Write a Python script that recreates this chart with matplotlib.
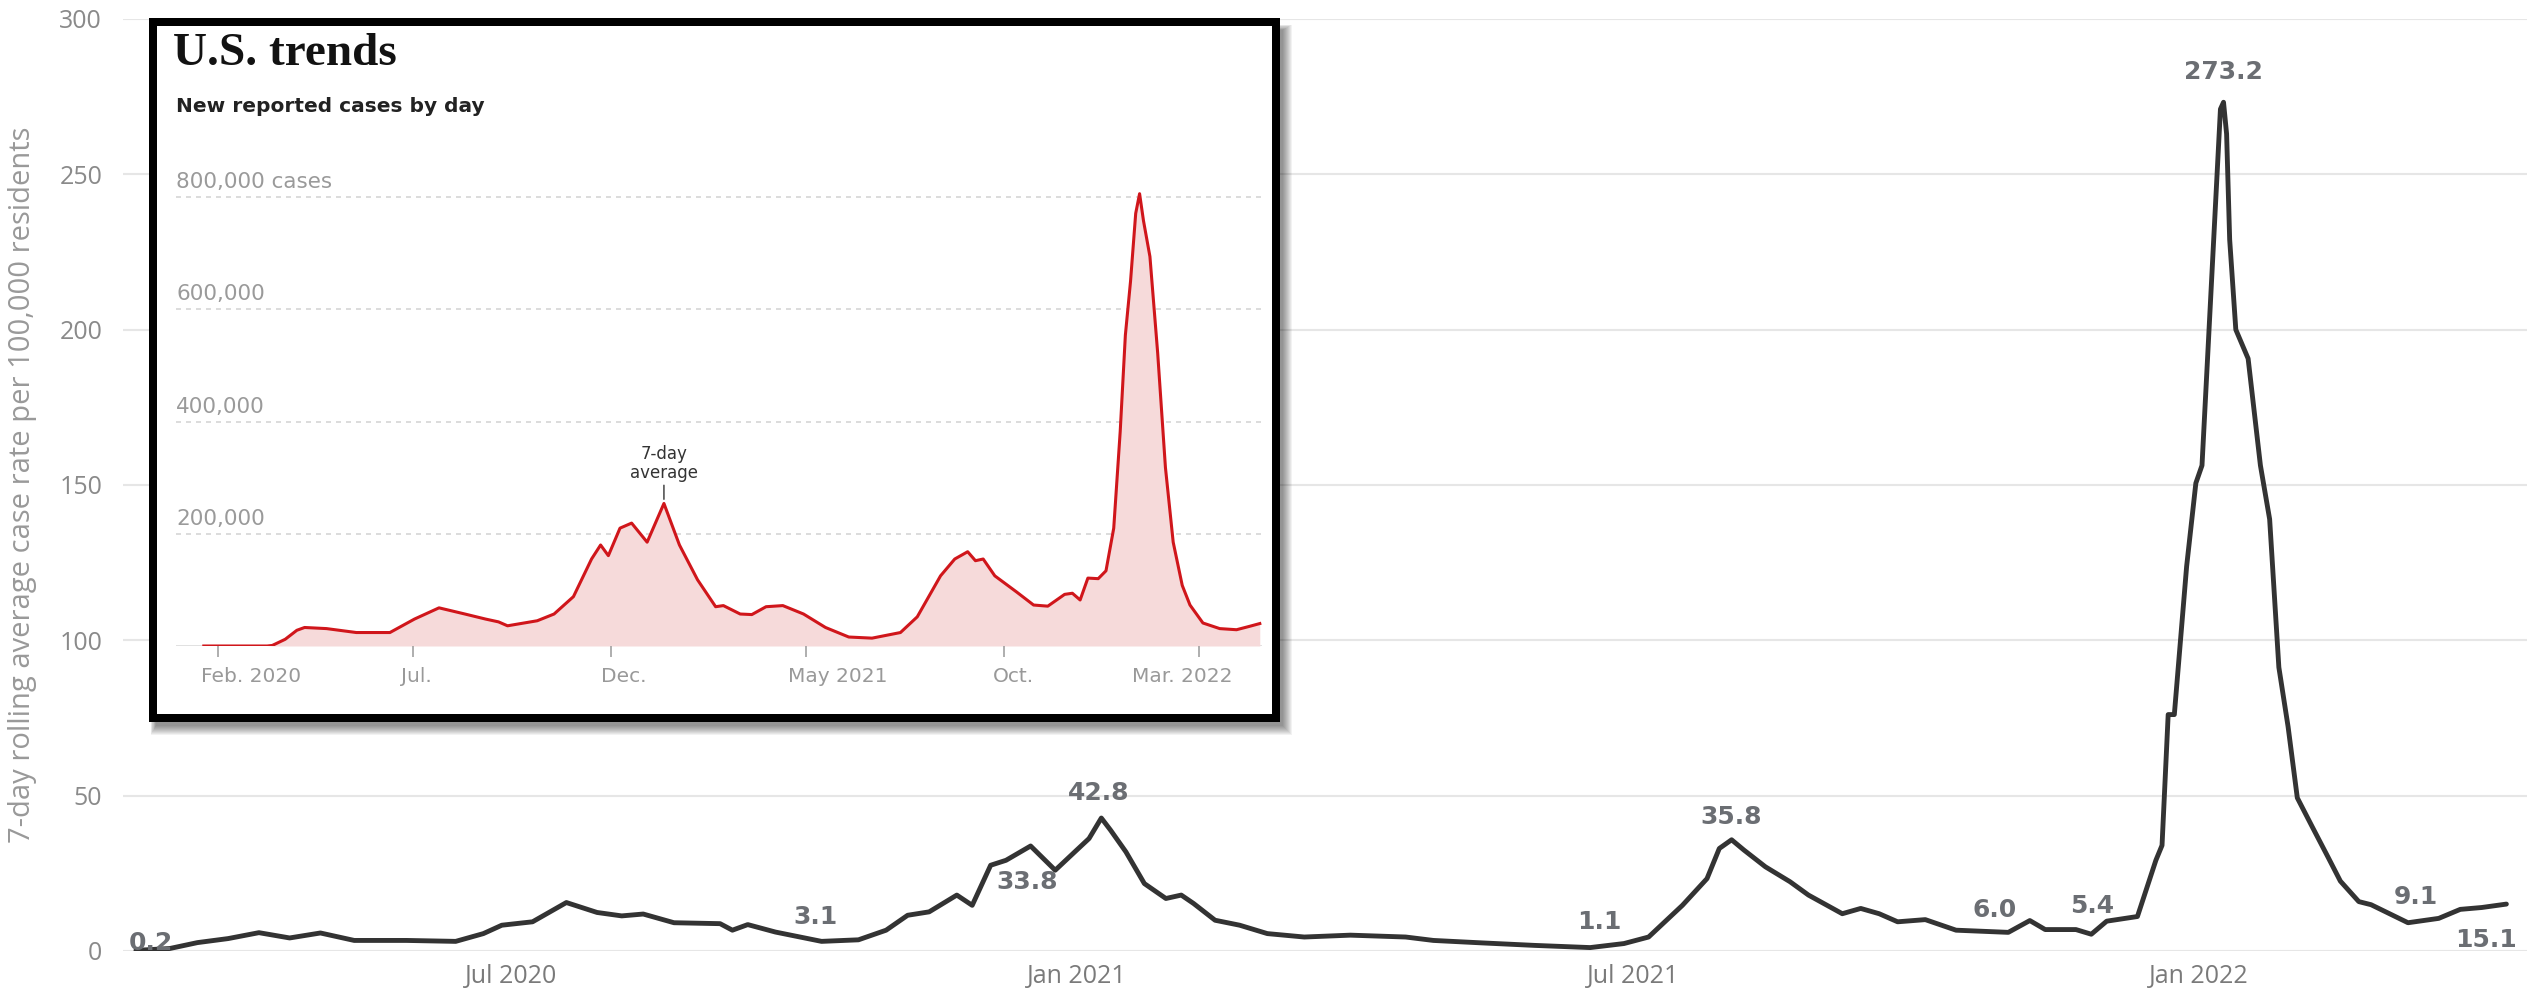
import numpy as np
import matplotlib
matplotlib.use("Agg")
import matplotlib.pyplot as plt
import matplotlib.dates as mdates
import matplotlib.transforms as mtransforms
from matplotlib.patches import Rectangle

W, H = 2534, 994
DPI = 100

# main chart: 7-day rolling average case rate per 100,000 residents
main_dates = [
    '2020-03-01', '2020-03-12', '2020-03-21', '2020-03-31', '2020-04-10', '2020-04-20',
    '2020-04-30', '2020-05-11', '2020-05-28', '2020-06-13', '2020-06-22', '2020-06-28',
    '2020-07-08', '2020-07-19', '2020-07-29', '2020-08-06', '2020-08-13', '2020-08-23',
    '2020-09-07', '2020-09-11', '2020-09-16', '2020-09-25', '2020-10-10', '2020-10-22',
    '2020-10-31', '2020-11-07', '2020-11-14', '2020-11-23', '2020-11-28', '2020-12-04',
    '2020-12-09', '2020-12-17', '2020-12-25', '2021-01-01', '2021-01-05', '2021-01-09',
    '2021-01-12', '2021-01-17', '2021-01-23', '2021-01-30', '2021-02-04', '2021-02-08',
    '2021-02-15', '2021-02-23', '2021-03-04', '2021-03-16', '2021-03-31', '2021-04-18',
    '2021-04-27', '2021-05-13', '2021-05-30', '2021-06-17', '2021-06-28', '2021-07-06',
    '2021-07-17', '2021-07-25', '2021-07-29', '2021-08-02', '2021-08-06', '2021-08-13',
    '2021-08-21', '2021-08-27', '2021-09-07', '2021-09-13', '2021-09-19', '2021-09-25',
    '2021-10-04', '2021-10-14', '2021-10-31', '2021-11-07', '2021-11-12', '2021-11-22',
    '2021-11-27', '2021-12-02', '2021-12-12', '2021-12-18', '2021-12-20', '2021-12-22',
    '2021-12-24', '2021-12-28', '2021-12-31', '2022-01-02', '2022-01-04', '2022-01-06',
    '2022-01-08', '2022-01-09', '2022-01-10', '2022-01-11', '2022-01-13', '2022-01-17',
    '2022-01-21', '2022-01-24', '2022-01-27', '2022-01-30', '2022-02-02', '2022-02-07',
    '2022-02-12', '2022-02-16', '2022-02-22', '2022-02-26', '2022-03-10', '2022-03-20',
    '2022-03-27', '2022-04-03', '2022-04-11',
]
main_rate = [
    0.2, 0.8, 2.7, 4.0, 5.9, 4.2,
    5.8, 3.4, 3.4, 3.1, 5.6, 8.3,
    9.4, 15.6, 12.4, 11.3, 11.9, 9.1,
    8.8, 6.7, 8.5, 6.1, 3.1, 3.6,
    6.7, 11.5, 12.6, 18.0, 14.7, 27.6,
    29.2, 33.8, 26.0, 32.5, 36.2, 42.8,
    38.9, 31.9, 21.7, 16.9, 18.0, 15.3,
    9.9, 8.3, 5.6, 4.5, 5.1, 4.5,
    3.4, 2.6, 1.8, 1.1, 2.4, 4.5,
    14.7, 23.3, 33.0, 35.8, 32.5, 27.1,
    22.3, 18.0, 12.0, 13.7, 12.0, 9.4,
    10.1, 6.7, 6.0, 9.8, 6.9, 6.9,
    5.4, 9.6, 11.1, 29.2, 34.0, 76.1,
    76.1, 123.8, 150.6, 156.3, 194.5, 232.8,
    271.0, 273.2, 263.0, 229.0, 200.0, 190.7,
    156.3, 139.0, 91.3, 72.2, 49.3, 39.7,
    30.2, 22.5, 15.9, 14.9, 9.1, 10.5,
    13.4, 14.0, 15.1,
]

label_dates = ['2020-03-01', '2020-10-10', '2020-12-17', '2021-01-09', '2021-06-17', '2021-08-02',
               '2021-10-31', '2021-11-27', '2022-01-09', '2022-03-10', '2022-04-11']
label_texts = ['0.2', '3.1', '33.8', '42.8', '1.1', '35.8', '6.0', '5.4', '273.2', '9.1', '15.1']

# inset: U.S. new reported cases by day (7-day average)
inset_dates = [
    '2020-01-21', '2020-03-10', '2020-03-14', '2020-03-24', '2020-04-02', '2020-04-08',
    '2020-04-25', '2020-05-18', '2020-06-13', '2020-07-02', '2020-07-21', '2020-08-10',
    '2020-08-26', '2020-09-05', '2020-09-12', '2020-10-05', '2020-10-18', '2020-11-02',
    '2020-11-16', '2020-11-23', '2020-11-29', '2020-12-08', '2020-12-17', '2020-12-29',
    '2021-01-11', '2021-01-23', '2021-02-06', '2021-02-20', '2021-02-26', '2021-03-11',
    '2021-03-20', '2021-03-31', '2021-04-13', '2021-04-29', '2021-05-16', '2021-06-03',
    '2021-06-21', '2021-07-13', '2021-07-26', '2021-08-13', '2021-08-24', '2021-09-03',
    '2021-09-09', '2021-09-15', '2021-09-24', '2021-10-11', '2021-10-24', '2021-11-04',
    '2021-11-17', '2021-11-23', '2021-11-29', '2021-12-05', '2021-12-13', '2021-12-19',
    '2021-12-25', '2021-12-30', '2022-01-03', '2022-01-07', '2022-01-11', '2022-01-14',
    '2022-01-17', '2022-01-22', '2022-01-28', '2022-02-03', '2022-02-09', '2022-02-16',
    '2022-02-22', '2022-03-04', '2022-03-17', '2022-03-30', '2022-04-09', '2022-04-17',
]
inset_cases = [
    0, 0, 1000, 12000, 28000, 33000,
    31000, 24000, 24000, 48000, 68000, 57000,
    48000, 43000, 36000, 45000, 57000, 88000,
    155000, 180000, 161000, 210000, 219000, 185000,
    254000, 180000, 118000, 70000, 72000, 57000,
    56000, 70000, 72000, 57000, 33000, 16000,
    14000, 24000, 52000, 125000, 155000, 168000,
    152000, 155000, 125000, 96000, 73000, 71000,
    92000, 94000, 82000, 121000, 120000, 134000,
    210000, 382000, 554000, 650000, 771000, 806000,
    758000, 694000, 522000, 318000, 185000, 108000,
    73000, 41000, 31000, 29000, 35000, 40000,
]
inset_grid = [200000, 400000, 600000, 800000]
inset_grid_labels = ['200,000', '400,000', '600,000', '800,000 cases']
inset_ticks = ['2020-02-01', '2020-07-01', '2020-12-01', '2021-05-01', '2021-10-01', '2022-03-01']
inset_tick_labels = ['Feb. 2020', 'Jul.', 'Dec.', 'May 2021', 'Oct.', 'Mar. 2022']

plt.rcParams['font.family'] = ['Open Sans', 'DejaVu Sans']


def box(left, top, right, bottom):
    # pixel box -> figure fraction
    return [left / W, 1 - bottom / H, (right - left) / W, (bottom - top) / H]


fig = plt.figure(figsize=(W / DPI, H / DPI), dpi=DPI)

# ---- main chart ----
ax = fig.add_axes(box(123, 19, 2527, 951))
ax.plot(np.array(main_dates, dtype='datetime64[D]'), main_rate, color='#333333', lw=3.5,
        solid_joinstyle='round', solid_capstyle='round', zorder=3)
ax.set_ylim(0, 300)
ax.set_xlim(np.datetime64('2020-02-25T19:00'), np.datetime64('2022-04-17T17:00'))
ax.set_yticks(np.arange(0, 301, 50))
ax.grid(axis='y', color='#e6e6e6', lw=1.5)
ax.set_axisbelow(True)
ax.xaxis.set_major_locator(mdates.MonthLocator(bymonth=[1, 7]))
ax.xaxis.set_major_formatter(mdates.DateFormatter('%b %Y'))
ax.tick_params(length=0)
ax.tick_params(axis='y', pad=15, labelsize=18, labelcolor='#8a8a8a')
ax.tick_params(axis='x', pad=9, labelsize=18, labelcolor='#7a7a7a')
for s in ax.spines.values():
    s.set_visible(False)
ax.set_ylabel('7-day rolling average case rate per 100,000 residents', fontsize=21, color='#999999')
ax.yaxis.set_label_coords(-0.0416, 0.5)
ax.yaxis.label.set_va('center')

label_offsets = [(15, 7), (-6, 24), (-3, -36), (-3, 25), (9, 26), (0, 23),
                 (-14, 22), (1, 28), (0, 30), (8, 26), (-20, -36)]
for d, t, (dx, dy) in zip(label_dates, label_texts, label_offsets):
    v = main_rate[main_dates.index(d)]
    ax.annotate(t, (np.datetime64(d), v), xytext=(dx, dy), textcoords='offset pixels',
                ha='center', va='center', fontsize=18, fontweight='bold',
                family='DejaVu Sans', color='#6b6e73', zorder=4)

# ---- inset frame with shadow ----
for k in range(10):
    sh = Rectangle(((153 + 3 - k * 0.6) / W, 1 - (722 + 4 + k) / H),
                   (1280 - 153 + k * 1.6) / W, (722 - 26 + k * 1.6) / H,
                   transform=fig.transFigure, facecolor='black', edgecolor='none',
                   alpha=0.05, zorder=1.5)
    fig.add_artist(sh)

axb = fig.add_axes(box(153, 22, 1276, 718), zorder=2)
axb.set_facecolor('white')
axb.set_xticks([])
axb.set_yticks([])
for s in axb.spines.values():
    s.set_linewidth(8 * 72 / DPI)
    s.set_color('black')

fig.text(173 / W, 1 - 65 / H, 'U.S. trends', family='Liberation Serif', weight='bold',
         size=34, va='baseline', color='#121212', zorder=5)
fig.text(176 / W, 1 - 112 / H, 'New reported cases by day', family='DejaVu Sans',
         weight='bold', size=14.5, va='baseline', color='#222222', zorder=5)

# ---- inset chart ----
axi = fig.add_axes(box(176, 169, 1262, 646), zorder=3)
axi.patch.set_alpha(0)
xi = np.array(inset_dates, dtype='datetime64[D]')
axi.fill_between(xi, inset_cases, color='#f6dada', lw=0, zorder=1)
axi.plot(xi, inset_cases, color='#d0161b', lw=2.2, zorder=2)
axi.set_ylim(0, 850000)
axi.set_xlim(np.datetime64('2019-12-30T12:00'), np.datetime64('2022-04-18T17:00'))
for v in inset_grid:
    axi.axhline(v, color='#d6d6d6', lw=1.2, ls=(0, (3, 3)), zorder=0)
axi.axhline(0, color='#dedede', lw=2, zorder=0.5)
for s in axi.spines.values():
    s.set_visible(False)
axi.set_yticks([])
axi.set_xticks(np.array(inset_ticks, dtype='datetime64[D]'))
axi.set_xticklabels([''] * len(inset_ticks))
axi.tick_params(axis='x', length=8, width=1.1, color='#999999')

for v, t in zip(inset_grid, inset_grid_labels):
    tr = mtransforms.offset_copy(axi.get_yaxis_transform(), fig=fig, x=0, y=5, units='dots')
    axi.text(0, v, t, transform=tr, ha='left', va='bottom', fontsize=15.5,
             family='DejaVu Sans', color='#9a9a9a')

tick_align = [('left', -17), ('left', -12), ('left', -10), ('left', -18), ('left', -11), ('center', -17)]
for d, t, (ha, dx) in zip(inset_ticks, inset_tick_labels, tick_align):
    tr = mtransforms.offset_copy(axi.get_xaxis_transform(), fig=fig, x=dx, y=-31, units='dots')
    axi.text(np.datetime64(d), 0, t, transform=tr, ha=ha, va='center', fontsize=14.5,
             family='DejaVu Sans', color='#999999')

axi.annotate('7-day\naverage', xy=(np.datetime64('2021-01-11'), 254000), xytext=(0, 21),
             textcoords='offset pixels', ha='center', va='bottom', fontsize=12,
             family='DejaVu Sans', color='#333333', linespacing=1.1,
             arrowprops=dict(arrowstyle='-', color='#333333', lw=1, shrinkA=0, shrinkB=3))

fig.savefig('out.png', dpi=DPI)
